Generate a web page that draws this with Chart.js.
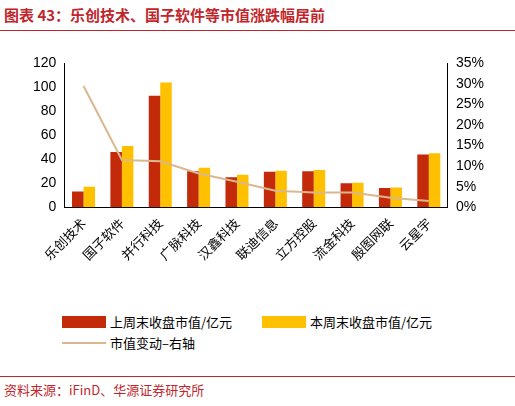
<!DOCTYPE html><html><head><meta charset="utf-8"><script src="https://cdn.jsdelivr.net/npm/chart.js"></script>
<style>body{margin:0;width:515px;height:406px;background:#fff;font-family:"Noto Sans CJK SC",sans-serif;position:relative;overflow:hidden}
#t{position:absolute;left:4px;top:4px;color:#c0272d;font-size:15px;font-weight:bold}
#tl{position:absolute;left:0;top:30px;width:515px;border-top:1.5px solid #c0272d}
#c{position:absolute;left:0;top:52px;width:515px;height:214px}
.lg{position:absolute;font-size:13px;color:#000;display:flex;align-items:center}
.sw{width:44px;height:12px;margin-right:4px}
#f{position:absolute;left:4px;top:380px;font-size:13px;color:#c0272d}
#fl{position:absolute;left:0;top:376px;width:515px;border-top:1px solid #c0272d}
</style></head><body>
<div id="t">图表 43：乐创技术、国子软件等市值涨跌幅居前</div><div id="tl"></div>
<div id="c"><canvas id="cv"></canvas></div>
<div class="lg" style="left:62px;top:312px"><div class="sw" style="background:#c32a0a"></div>上周末收盘市值/亿元</div>
<div class="lg" style="left:262px;top:312px"><div class="sw" style="background:#ffc000"></div>本周末收盘市值/亿元</div>
<div class="lg" style="left:62px;top:333px"><div class="sw" style="height:2px;background:#d9b88f"></div>市值变动–右轴</div>
<div id="fl"></div><div id="f">资料来源：iFinD、华源证券研究所</div>
<script>
const categories=["乐创技术","国子软件","并行科技","广脉科技","汉鑫科技","联迪信息","立方控股","流金科技","殷图网联","云星宇"];
const lastWeek=[13,46,93,30,25,29.5,30,20,16,44];
const thisWeek=[17,51,104,33,27,30.5,31,20.5,16.5,45];
const change=[29.5,11.5,11.2,8.2,6.2,4,3.6,3.6,2.3,1.5];
const tk={color:'#000',font:{size:14,family:'Liberation Sans'}};
new Chart(document.getElementById('cv'),{data:{labels:categories,datasets:[
{type:'line',data:change,yAxisID:'y1',borderColor:'#d9b88f',borderWidth:2,pointRadius:0,order:0},
{type:'bar',data:lastWeek,backgroundColor:'#c32a0a',yAxisID:'y',categoryPercentage:0.6,barPercentage:1,order:1},
{type:'bar',data:thisWeek,backgroundColor:'#ffc000',yAxisID:'y',categoryPercentage:0.6,barPercentage:1,order:1}]},
options:{responsive:true,maintainAspectRatio:false,animation:false,layout:{padding:{left:30,right:28,top:6}},
plugins:{legend:{display:false},tooltip:{enabled:false}},
scales:{x:{grid:{display:false,drawTicks:true,tickLength:5,color:'#000'},border:{color:'#000'},ticks:{...tk,font:{size:13,family:'Noto Sans CJK SC'},maxRotation:45,minRotation:45}},
y:{min:0,max:120,ticks:{...tk,stepSize:20},grid:{display:false,tickLength:5},border:{color:'#000'}},
y1:{position:'right',min:0,max:35,ticks:{...tk,stepSize:5,callback:v=>v+'%'},grid:{display:false,tickLength:5},border:{color:'#000'}}}}});
</script></body></html>
